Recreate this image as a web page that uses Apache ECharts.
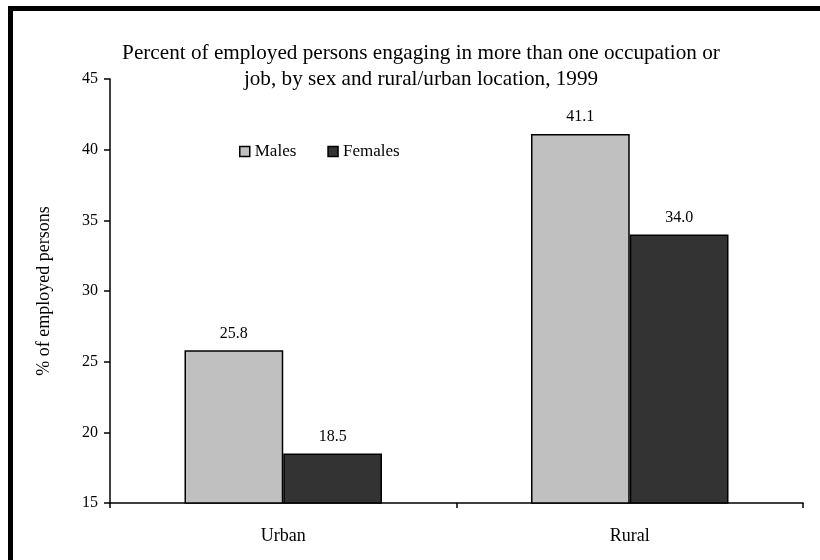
<!DOCTYPE html>
<html>
<head>
<meta charset="utf-8">
<script src="https://cdn.jsdelivr.net/npm/echarts@6/dist/echarts.min.js"></script>
<style>
html, body { margin: 0; padding: 0; background: #fff; }
#chart { width: 820px; height: 560px; }
</style>
</head>
<body>
<div id="chart"></div>
<script>
const categories = ['Urban', 'Rural']
const males = [25.8, 41.1]
const females = [18.5, 34.0]
const seriesNames = ['Males', 'Females']
const titleText = 'Percent of employed persons engaging in more than one occupation or\njob, by sex and rural/urban location, 1999'
const yName = '% of employed persons'

const serif = "'Liberation Serif', 'Times New Roman', 'DejaVu Serif', serif"

const myChart = echarts.init(document.getElementById('chart'))
const option = {
    backgroundColor: '#fff',
    textStyle: { fontFamily: serif, color: '#000' },
    title: {
        text: titleText,
        left: 416,
        top: 35,
        textAlign: 'center',
        textStyle: {
            fontFamily: serif,
            fontSize: 21.2,
            fontWeight: 'normal',
            color: '#000',
            lineHeight: 26
        }
    },
    legend: {
        data: seriesNames,
        left: 234,
        top: 138,
        icon: 'rect',
        itemWidth: 10,
        itemHeight: 10,
        itemGap: 31,
        itemStyle: { borderColor: '#000', borderWidth: 1.5 },
        textStyle: { fontFamily: serif, fontSize: 17, color: '#000' }
    },
    grid: {
        left: 110,
        right: 17,
        top: 79,
        bottom: 57,
        containLabel: false,
        outerBoundsMode: 'none'
    },
    xAxis: {
        type: 'category',
        data: categories,
        axisLine: { lineStyle: { color: '#000', width: 1.5 } },
        axisTick: { show: true, length: 5, lineStyle: { color: '#000', width: 1.5 } },
        axisLabel: { fontFamily: serif, fontSize: 18, color: '#000', margin: 24 }
    },
    yAxis: {
        type: 'value',
        min: 15,
        max: 45,
        interval: 5,
        name: yName,
        nameLocation: 'middle',
        nameGap: 57,
        nameTextStyle: { fontFamily: serif, fontSize: 18, color: '#000' },
        splitLine: { show: false },
        axisLine: { show: true, lineStyle: { color: '#000', width: 1.5 } },
        axisTick: { show: true, length: 6, lineStyle: { color: '#000', width: 1.5 } },
        axisLabel: { fontFamily: serif, fontSize: 16, color: '#000', margin: 12 }
    },
    series: [
        {
            name: seriesNames[0],
            type: 'bar',
            data: males,
            barGap: '0%',
            barCategoryGap: '43%',
            itemStyle: { color: '#c0c0c0', borderColor: '#000', borderWidth: 1.5 },
            label: { show: true, position: 'top', distance: 9, fontFamily: serif, fontSize: 16, color: '#000', formatter: p => p.value.toFixed(1) }
        },
        {
            name: seriesNames[1],
            type: 'bar',
            data: females,
            itemStyle: { color: '#333333', borderColor: '#000', borderWidth: 1.5 },
            label: { show: true, position: 'top', distance: 9, fontFamily: serif, fontSize: 16, color: '#000', formatter: p => p.value.toFixed(1) }
        }
    ],
    graphic: [
        { type: 'rect', shape: { x: 8, y: 6, width: 812, height: 5 }, style: { fill: '#000' } },
        { type: 'rect', shape: { x: 8, y: 6, width: 5, height: 554 }, style: { fill: '#000' } }
    ]
}
option && myChart.setOption(option)
</script>
</body>
</html>
